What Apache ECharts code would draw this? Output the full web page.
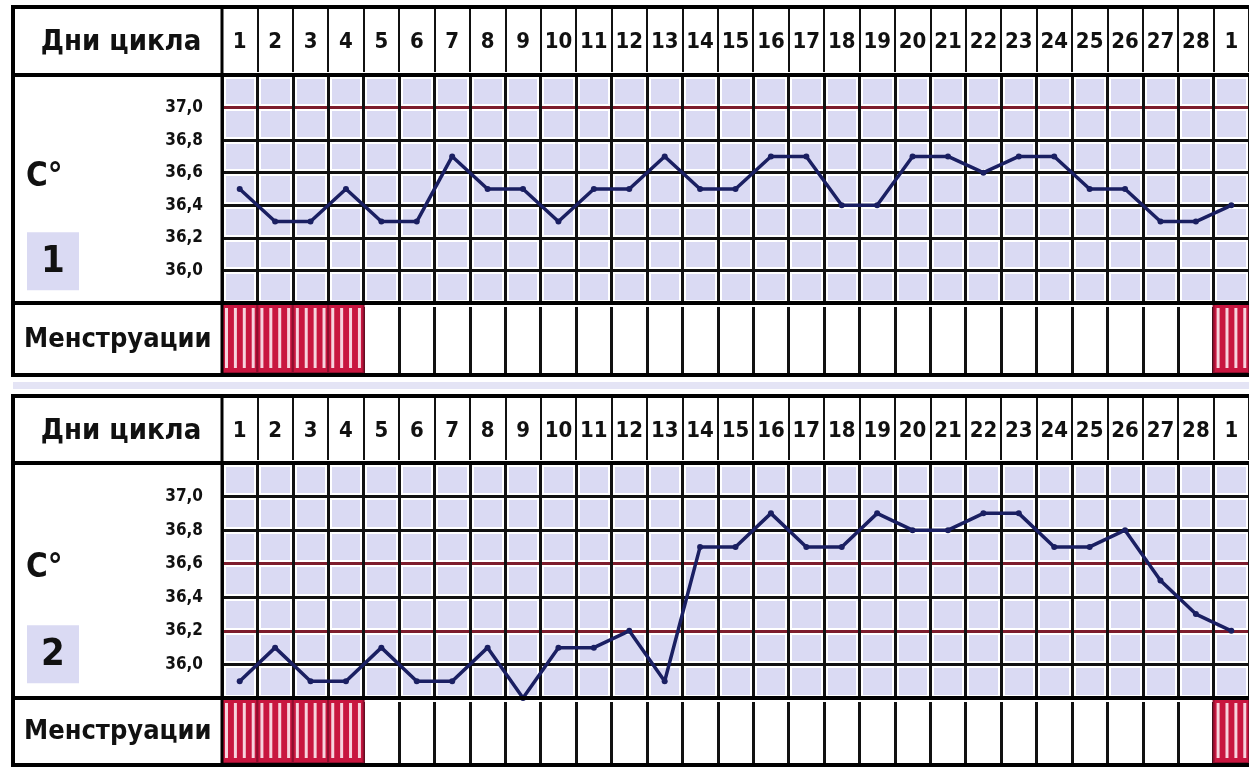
<!DOCTYPE html>
<html>
<head>
<meta charset="utf-8">
<script src="https://cdn.jsdelivr.net/npm/echarts@6/dist/echarts.min.js"></script>
<style>
html,body{margin:0;padding:0;background:#fff;}
#chart{width:1249px;height:767px;}
</style>
</head>
<body>
<div id="chart"></div>
<script>
// ---- data ----
const days = ['1','2','3','4','5','6','7','8','9','10','11','12','13','14','15','16','17','18','19','20','21','22','23','24','25','26','27','28','1'];
const temp1 = [36.5,36.3,36.3,36.5,36.3,36.3,36.7,36.5,36.5,36.3,36.5,36.5,36.7,36.5,36.5,36.7,36.7,36.4,36.4,36.7,36.7,36.6,36.7,36.7,36.5,36.5,36.3,36.3,36.4];
const temp2 = [35.9,36.1,35.9,35.9,36.1,35.9,35.9,36.1,35.8,36.1,36.1,36.2,35.9,36.7,36.7,36.9,36.7,36.7,36.9,36.8,36.8,36.9,36.9,36.7,36.7,36.8,36.5,36.3,36.2];
const menses1 = [1,1,1,1,0,0,0,0,0,0,0,0,0,0,0,0,0,0,0,0,0,0,0,0,0,0,0,0,1];
const menses2 = [1,1,1,1,0,0,0,0,0,0,0,0,0,0,0,0,0,0,0,0,0,0,0,0,0,0,0,0,1];
const tempMin = 35.8, tempMax = 37.2, tempStep = 0.2;
const headerTitle = 'Дни цикла';
const rowTitle = 'Менструации';
const unitTitle = 'C°';
const chartNumbers = ['1','2'];

// ---- styles ----
const FONT = 'DejaVu Sans Condensed';
const BLACK = '#111';
const RED = '#7d1c2c';
const LAV = '#dadaf3';
const LINE = '#1a1f62';

const chart = echarts.init(document.getElementById('chart'));

const panels = [
  {hTop: 8, gTop: 75, gBot: 303, mBot: 374, temp: temp1, menses: menses1, red: [6], label: chartNumbers[0], frameTop: 7},
  {hTop: 398, gTop: 463, gBot: 698, mBot: 764, temp: temp2, menses: menses2, red: [2, 4], label: chartNumbers[1], frameTop: 396}
];

const LEFT = 222, RIGHT = -5;
const grids = [], xAxes = [], yAxes = [], series = [], graphics = [];

function splitColors(redIdx) {
  const arr = [];
  for (let i = 0; i < 8; i++) arr.push(redIdx.indexOf(i) >= 0 ? RED : BLACK);
  return arr;
}

panels.forEach((p, k) => {
  const g0 = grids.length;
  grids.push({left: LEFT, right: RIGHT, top: p.hTop, height: p.gTop - p.hTop});
  grids.push({left: LEFT, right: RIGHT, top: p.gTop, height: p.gBot - p.gTop, show: true, backgroundColor: LAV, borderWidth: 0});
  grids.push({left: LEFT, right: RIGHT, top: p.gBot, height: p.mBot - p.gBot});
  const xa0 = xAxes.length;
  const baseX = {type: 'category', data: days, boundaryGap: true, axisLine: {show: false}, axisTick: {show: false}};
  xAxes.push(Object.assign({}, baseX, {gridIndex: g0, axisLabel: {show: false}, splitLine: {show: true, interval: 0, lineStyle: {color: BLACK, width: 2}}}));
  xAxes.push(Object.assign({}, baseX, {gridIndex: g0 + 1, position: 'top', z: 3,
    axisLabel: {show: true, interval: 0, margin: (p.gTop - p.hTop) / 2 - 1, verticalAlign: 'middle', fontFamily: FONT, fontWeight: 'bold', fontSize: 22, color: BLACK},
    splitLine: {show: true, interval: 0, lineStyle: {color: BLACK, width: 3}}}));
  xAxes.push(Object.assign({}, baseX, {gridIndex: g0 + 1, z: 1, axisLabel: {show: false}, splitLine: {show: true, interval: 0, lineStyle: {color: '#fff', width: 7}}}));
  xAxes.push(Object.assign({}, baseX, {gridIndex: g0 + 2, axisLabel: {show: false}, splitLine: {show: true, interval: 0, lineStyle: {color: BLACK, width: 3}}}));
  const ya0 = yAxes.length;
  yAxes.push({gridIndex: g0, type: 'value', min: 0, max: 1, show: false});
  yAxes.push({gridIndex: g0 + 1, type: 'value', min: tempMin, max: tempMax, interval: tempStep, z: 3,
    axisLine: {show: false}, axisTick: {show: false},
    axisLabel: {margin: 19, fontFamily: FONT, fontWeight: 'bold', fontSize: 17, color: BLACK,
      formatter: v => (v > 35.95 && v < 37.05) ? v.toFixed(1).replace('.', ',') : ''},
    splitLine: {show: true, lineStyle: {color: splitColors(p.red), width: 3}}});
  yAxes.push({gridIndex: g0 + 1, type: 'value', min: tempMin, max: tempMax, interval: tempStep, z: 1,
    axisLine: {show: false}, axisTick: {show: false}, axisLabel: {show: false},
    splitLine: {show: true, lineStyle: {color: '#fff', width: 7}}});
  yAxes.push({gridIndex: g0 + 2, type: 'value', min: 0, max: 1, show: false});

  series.push({
    type: 'line', xAxisIndex: xa0 + 1, yAxisIndex: ya0 + 1, data: p.temp, z: 5,
    color: LINE, lineStyle: {color: LINE, width: 3.5}, symbol: 'circle', symbolSize: 6,
    itemStyle: {color: LINE}, animation: false
  });
  const mData = [];
  p.menses.forEach((m, i) => { if (m) mData.push([i, 1]); });
  series.push({
    type: 'custom', xAxisIndex: xa0 + 3, yAxisIndex: ya0 + 3, data: mData, z: 5, animation: false,
    encode: {x: 0, y: 1},
    renderItem: function (params, api) {
      const idx = api.value(0);
      const top = api.coord([idx, 1]);
      const bot = api.coord([idx, 0]);
      const w = api.size([1, 0])[0];
      const x0 = top[0] - w / 2, y0 = top[1] + 1, h = bot[1] - top[1] - 2;
      const children = [{type: 'rect', shape: {x: x0, y: y0, width: w, height: h}, style: {fill: '#c8163f'}}];
      for (let sx = x0 + 3; sx < x0 + w - 2; sx += 8.9) {
        children.push({type: 'rect', shape: {x: sx, y: y0 + 4, width: 3, height: h - 9}, style: {fill: '#f7d3dd'}});
      }
      children.push({type: 'rect', shape: {x: x0, y: y0, width: w, height: h}, style: {fill: 'none', stroke: '#8e0f2e', lineWidth: 2}});
      return {type: 'group', children: children};
    }
  });

  // frame & separators
  graphics.push({type: 'rect', z: 100, shape: {x: 13, y: p.frameTop, width: 1270, height: p.mBot - p.frameTop + 1}, style: {fill: 'none', stroke: '#000', lineWidth: 4}});
  graphics.push({type: 'line', z: 100, shape: {x1: 13, y1: p.gTop, x2: 1249, y2: p.gTop}, style: {stroke: '#000', lineWidth: 4}});
  graphics.push({type: 'line', z: 100, shape: {x1: 13, y1: p.gBot, x2: 1249, y2: p.gBot}, style: {stroke: '#000', lineWidth: 4}});
  graphics.push({type: 'line', z: 100, shape: {x1: LEFT, y1: p.frameTop, x2: LEFT, y2: p.mBot}, style: {stroke: '#000', lineWidth: 3}});
  // texts
  graphics.push({type: 'text', z: 100, x: 121, y: (p.hTop + p.gTop) / 2 + 1, style: {text: headerTitle, font: 'bold 29px "' + FONT + '"', fill: BLACK, align: 'center', verticalAlign: 'middle'}});
  graphics.push({type: 'text', z: 100, x: 24, y: (p.gBot + p.mBot) / 2 + 1, style: {text: rowTitle, font: 'bold 27px "' + FONT + '"', fill: BLACK, align: 'left', verticalAlign: 'middle'}});
  graphics.push({type: 'text', z: 100, x: 26, y: p.gTop + (p.gBot - p.gTop) * 0.45, style: {text: unitTitle, font: 'bold 33px "' + FONT + '"', fill: BLACK, align: 'left', verticalAlign: 'middle'}});
  const bTop = p.gTop + (p.gBot - p.gTop) * 0.69;
  graphics.push({type: 'rect', z: 99, shape: {x: 27, y: bTop, width: 52, height: 58}, style: {fill: LAV}});
  graphics.push({type: 'text', z: 100, x: 53, y: bTop + 30, style: {text: p.label, font: 'bold 38px "' + FONT + '"', fill: BLACK, align: 'center', verticalAlign: 'middle'}});
});
// band between panels
graphics.push({type: 'rect', z: 1, shape: {x: 13, y: 382, width: 1240, height: 7}, style: {fill: '#e4e4f5'}});

chart.setOption({
  animation: false,
  backgroundColor: '#fff',
  grid: grids,
  xAxis: xAxes,
  yAxis: yAxes,
  series: series,
  graphic: graphics
});
</script>
</body>
</html>
